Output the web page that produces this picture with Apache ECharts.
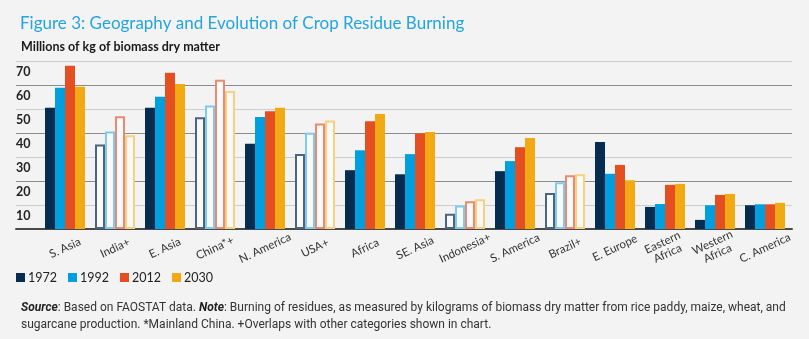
<!DOCTYPE html>
<html>
<head>
<meta charset="utf-8">
<script src="https://cdn.jsdelivr.net/npm/echarts@6/dist/echarts.min.js"></script>
<style>
html,body{margin:0;padding:0;background:#f3f3f3;}
#chart{width:809px;height:339px;}
</style>
</head>
<body>
<div id="chart"></div>
<script>
const categories = ['S. Asia','India+','E. Asia','China*+','N. America','USA+','Africa','SE. Asia','Indonesia+','S. America','Brazil+','E. Europe','Eastern\nAfrica','Western\nAfrica','C. America'];
const hollowCategories = ['India+','China*+','USA+','Indonesia+','Brazil+'];
const years = ['1972','1992','2012','2030'];
const v1972 = [50.5, 35.2, 50.5, 46.6, 35.5, 31.3, 24.5, 22.8, 6.4, 24.1, 15.0, 36.2, 9.2, 3.8, 9.9];
const v1992 = [58.9, 40.6, 55.1, 51.5, 46.7, 40.1, 32.8, 31.2, 9.8, 28.3, 19.5, 23.0, 10.4, 9.9, 10.3];
const v2012 = [68.0, 47.0, 65.1, 62.2, 49.1, 44.0, 44.9, 39.8, 11.6, 34.1, 22.4, 26.7, 18.4, 14.2, 10.3];
const v2030 = [59.3, 39.1, 60.4, 57.5, 50.5, 45.2, 47.9, 40.4, 12.4, 37.9, 22.8, 20.3, 18.8, 14.6, 10.9];
const yTicks = [10, 20, 30, 40, 50, 60, 70];

const seriesValues = [v1972, v1992, v2012, v2030];
const solidColors = ['#062c4f', '#00a0e0', '#e54e20', '#f2aa14'];
const hollowBorders = ['#4d6480', '#7fcbee', '#ea8a72', '#f6d17f'];

const chart = echarts.init(document.getElementById('chart'), null, {renderer: 'canvas'});

const series = seriesValues.map((vals, s) => ({
  name: years[s],
  type: 'bar',
  xAxisIndex: 1,
  yAxisIndex: 1,
  barWidth: 10,
  barGap: '0%',
  itemStyle: {color: solidColors[s]},
  emphasis: {disabled: true},
  data: vals.map((v, i) => hollowCategories.includes(categories[i])
    ? {value: v, itemStyle: {color: '#f9f9f9', borderColor: hollowBorders[s], borderWidth: 2}}
    : v)
}));

const option = {
  backgroundColor: '#f3f3f3',
  animation: false,
  title: [
    {
      text: 'Figure 3: Geography and Evolution of Crop Residue Burning',
      left: 15, top: 10,
      textStyle: {fontFamily: 'Lato', fontSize: 17, fontWeight: 'normal', color: '#23a5de'}
    },
    {
      text: 'Millions of kg of biomass dry matter',
      left: 16, top: 35,
      textStyle: {fontFamily: 'Lato', fontSize: 12.5, fontWeight: 'bold', color: '#1a1a1a'}
    },
    {
      text: '{b|Source}: Based on FAOSTAT data. {b|Note}: Burning of residues, as measured by kilograms of biomass dry matter from rice paddy, maize, wheat, and\nsugarcane production. *Mainland China. +Overlaps with other categories shown in chart.',
      left: 16, top: 294,
      textStyle: {
        fontFamily: 'Roboto', fontSize: 12, fontWeight: 'normal', color: '#333', lineHeight: 17,
        rich: {b: {fontFamily: 'Roboto', fontSize: 12, fontWeight: 'bold', fontStyle: 'italic', color: '#222'}}
      }
    }
  ],
  legend: {
    data: years,
    left: 11, top: 266,
    icon: 'rect',
    itemWidth: 9, itemHeight: 9,
    itemGap: 11,
    textStyle: {fontFamily: 'Lato', fontSize: 12.5, color: '#222', padding: [0, 0, 0, -2]}
  },
  grid: [
    {left: 16, right: 17, top: 61, height: 168, containLabel: false},
    {left: 40, right: 19, top: 61, height: 168, containLabel: false}
  ],
  xAxis: [
    {
      type: 'category', gridIndex: 0, data: categories,
      axisLine: {show: true, lineStyle: {color: '#4a4a4a', width: 2}},
      axisTick: {show: false}, axisLabel: {show: false}, splitLine: {show: false}
    },
    {
      type: 'category', gridIndex: 1, data: categories,
      axisLine: {show: false}, axisTick: {show: false},
      axisLabel: {
        interval: 0, rotate: 25, align: 'center', verticalAlign: 'middle', margin: 19,
        fontFamily: 'Lato', fontSize: 11.5, color: '#333', lineHeight: 12
      }
    }
  ],
  yAxis: [
    {
      type: 'value', gridIndex: 0, min: 0, max: 70, interval: 10,
      axisLine: {show: false}, axisTick: {show: false},
      axisLabel: {
        inside: true, margin: 0, align: 'left', verticalAlign: 'top',
        padding: [4, 0, 0, 0],
        fontFamily: 'Lato', fontSize: 12.5, fontWeight: 'bold', color: '#222',
        formatter: v => (yTicks.includes(v) ? String(v) : '')
      },
      splitLine: {show: true, lineStyle: {color: ['#8c8c8c', '#cdcdcd'], width: 1.2}}
    },
    {
      type: 'value', gridIndex: 1, min: 0, max: 70, interval: 10,
      show: false, splitLine: {show: false}
    }
  ],
  series: series
};
chart.setOption(option);
</script>
</body>
</html>
